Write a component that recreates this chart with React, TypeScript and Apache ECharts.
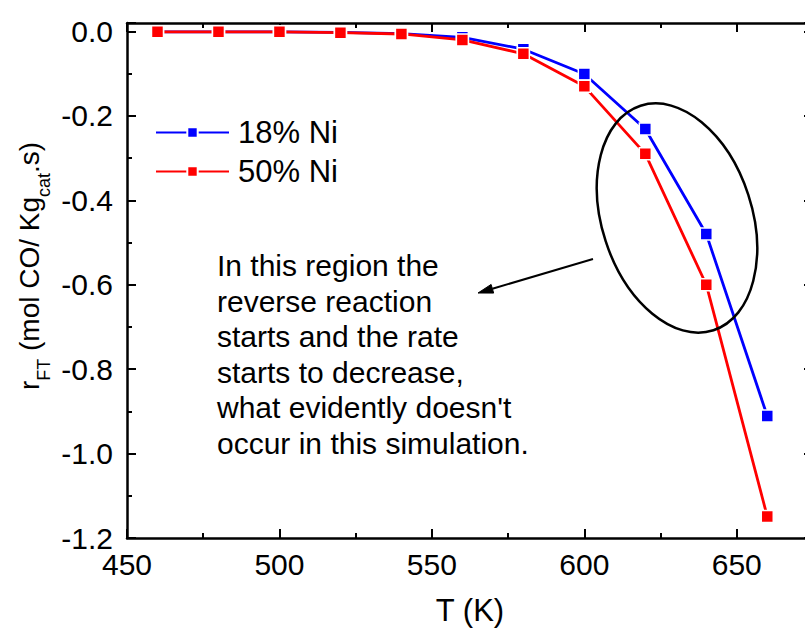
import React, { useEffect, useRef } from "react";
import * as echarts from "echarts";

const temperatures = [460, 480, 500, 520, 540, 560, 580, 600, 620, 640, 660];
const rate18Ni = [-0.001, -0.001, -0.001, -0.002, -0.005, -0.014, -0.042, -0.101, -0.231, -0.48, -0.911];
const rate50Ni = [-0.001, -0.001, -0.001, -0.003, -0.006, -0.02, -0.053, -0.13, -0.29, -0.6, -1.149];
const seriesNames = ["18% Ni", "50% Ni"];
const seriesColors = ["#0000ff", "#ff0000"];
const annotationLines = [
  "In this region the",
  "reverse reaction",
  "starts and the rate",
  "starts to decrease,",
  "what evidently doesn't",
  "occur in this simulation.",
];

const FONT = "Arial, 'Liberation Sans', Helvetica, sans-serif";

export default function App() {
  const ref = useRef<HTMLDivElement>(null);

  useEffect(() => {
    if (!ref.current) return;
    const chart = echarts.init(ref.current, undefined, { renderer: "svg" });

    const axisLine = { show: true, onZero: false, lineStyle: { color: "#000", width: 2.5 } };
    const axisTick = { show: true, inside: true, length: 9, lineStyle: { color: "#000", width: 2 } };
    const minorTick = { show: true, splitNumber: 2, length: 5, lineStyle: { color: "#000", width: 2 } };

    // arrow geometry
    const ax0 = 593, ay0 = 259, ax1 = 478, ay1 = 293;
    const dx = ax1 - ax0, dy = ay1 - ay0;
    const len = Math.sqrt(dx * dx + dy * dy);
    const ux = dx / len, uy = dy / len;
    const headLen = 15, headHalf = 4.5;
    const bx = ax1 - ux * headLen, by = ay1 - uy * headLen;
    const nx = -uy, ny = ux;

    const data18 = temperatures.map((t, i) => [t, rate18Ni[i]]);
    const data50 = temperatures.map((t, i) => [t, rate50Ni[i]]);

    const makeSeries = (name: string, data: number[][], color: string) => ({
      name,
      type: "line",
      data,
      xAxisIndex: 0,
      yAxisIndex: 0,
      symbol: "rect",
      symbolSize: 12,
      lineStyle: { color, width: 2.8 },
      itemStyle: { color, borderColor: "#fff", borderWidth: 1.5 },
      emphasis: { disabled: true },
    });

    const option: any = {
      animation: false,
      backgroundColor: "#fff",
      textStyle: { fontFamily: FONT },
      grid: { left: 127, right: 7, top: 23, bottom: 95, containLabel: false },
      legend: {
        orient: "vertical",
        left: 155,
        top: 117,
        padding: 0,
        itemWidth: 73,
        itemHeight: 13,
        itemGap: 8,
        data: seriesNames,
        textStyle: { fontSize: 31, color: "#000", fontFamily: FONT, lineHeight: 31, padding: [0, 0, 0, 4] },
      },
      xAxis: [
        {
          type: "value",
          position: "bottom",
          min: 450,
          max: 675,
          interval: 50,
          axisLine,
          axisTick,
          minorTick,
          splitLine: { show: false },
          minorSplitLine: { show: false },
          axisLabel: {
            margin: 11,
            fontSize: 30,
            color: "#000",
            fontFamily: FONT,
            formatter: (v: number) => (Math.abs(v % 50) < 1e-6 ? String(v) : ""),
          },
          name: "T (K)",
          nameLocation: "middle",
          nameGap: 57,
          nameTextStyle: { fontSize: 31, color: "#000", fontFamily: FONT },
        },
        {
          type: "value",
          position: "top",
          min: 450,
          max: 675,
          interval: 50,
          axisLine,
          axisTick,
          minorTick,
          splitLine: { show: false },
          axisLabel: { show: false },
        },
      ],
      yAxis: [
        {
          type: "value",
          position: "left",
          min: -1.2,
          max: 0.02,
          interval: 0.2,
          axisLine,
          axisTick,
          minorTick,
          splitLine: { show: false },
          minorSplitLine: { show: false },
          axisLabel: {
            margin: 14,
            fontSize: 30,
            color: "#000",
            fontFamily: FONT,
            formatter: (v: number) => {
              const k = v / 0.2;
              return Math.abs(k - Math.round(k)) < 1e-6 ? (Math.abs(v) < 1e-9 ? "0.0" : v.toFixed(1)) : "";
            },
          },
        },
        {
          type: "value",
          position: "right",
          min: -1.2,
          max: 0.02,
          interval: 0.2,
          axisLine,
          axisTick,
          minorTick,
          splitLine: { show: false },
          axisLabel: { show: false },
        },
      ],
      series: [
        makeSeries(seriesNames[0], data18, seriesColors[0]),
        makeSeries(seriesNames[1], data50, seriesColors[1]),
      ],
      graphic: [
        {
          type: "ellipse",
          x: 677,
          y: 218,
          rotation: (18 * Math.PI) / 180,
          shape: { cx: 0, cy: 0, rx: 75, ry: 118 },
          style: { fill: "none", stroke: "#000", lineWidth: 2.5 },
          z: 100,
        },
        {
          type: "line",
          shape: { x1: ax0, y1: ay0, x2: bx, y2: by },
          style: { stroke: "#000", lineWidth: 2 },
          z: 100,
        },
        {
          type: "polygon",
          shape: {
            points: [
              [ax1, ay1],
              [bx + nx * headHalf, by + ny * headHalf],
              [bx - nx * headHalf, by - ny * headHalf],
            ],
          },
          style: { fill: "#000", stroke: "#000", lineWidth: 1 },
          z: 100,
        },
        {
          type: "text",
          x: 217,
          y: 248,
          style: {
            text: annotationLines.join("\n"),
            font: `30px ${FONT}`,
            fontSize: 30,
            fontFamily: FONT,
            fill: "#000",
            lineHeight: 35.5,
            align: "left",
            verticalAlign: "top",
          },
          z: 100,
        },
        {
          type: "text",
          x: 29,
          y: 266,
          rotation: Math.PI / 2,
          style: {
            text: "{m|r}{s|FT}{m| (mol CO/ Kg}{s|cat}{m|.s)}",
            align: "center",
            verticalAlign: "middle",
            fill: "#000",
            rich: {
              m: { fontSize: 28, fontFamily: FONT, lineHeight: 47, verticalAlign: "middle", fill: "#000" },
              s: { fontSize: 18, fontFamily: FONT, lineHeight: 18, verticalAlign: "bottom", fill: "#000" },
            },
          },
          z: 100,
        },
      ],
    };

    chart.setOption(option);
    return () => chart.dispose();
  }, []);

  return (
    <div
      style={{
        position: "absolute",
        left: 0,
        top: 0,
        width: 805,
        height: 633,
        overflow: "hidden",
        background: "#fff",
      }}
    >
      <div ref={ref} style={{ width: 820, height: 633 }} />
    </div>
  );
}
